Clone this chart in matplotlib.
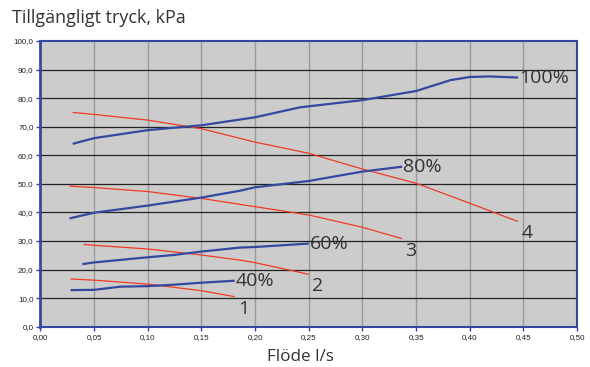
import matplotlib
matplotlib.use("Agg")
import matplotlib.pyplot as plt
from matplotlib.ticker import FuncFormatter, MultipleLocator

# Pump curves (blue) at fan speed settings
x_100 = [0.030, 0.05, 0.10, 0.15, 0.20, 0.242, 0.30, 0.35, 0.382, 0.40, 0.419, 0.445]
y_100 = [64.0, 66.0, 68.8, 70.5, 73.3, 76.8, 79.3, 82.5, 86.3, 87.4, 87.6, 87.2]
x_80 = [0.027, 0.05, 0.10, 0.15, 0.186, 0.20, 0.25, 0.30, 0.337]
y_80 = [37.9, 39.9, 42.4, 45.2, 47.6, 48.8, 51.0, 54.3, 56.0]
x_60 = [0.039, 0.05, 0.10, 0.124, 0.15, 0.186, 0.20, 0.25]
y_60 = [21.9, 22.5, 24.3, 25.1, 26.3, 27.7, 27.9, 29.1]
x_40 = [0.028, 0.05, 0.074, 0.10, 0.124, 0.15, 0.181]
y_40 = [12.8, 12.9, 14.0, 14.2, 14.7, 15.4, 16.1]

# System curves (red)
x_r1 = [0.028, 0.05, 0.10, 0.15, 0.181]
y_r1 = [16.7, 16.3, 14.9, 12.6, 10.5]
x_r2 = [0.040, 0.05, 0.10, 0.15, 0.186, 0.20, 0.242, 0.25]
y_r2 = [28.8, 28.5, 27.2, 25.1, 23.3, 22.4, 19.0, 18.3]
x_r3 = [0.027, 0.05, 0.10, 0.15, 0.20, 0.25, 0.30, 0.337]
y_r3 = [49.2, 48.7, 47.3, 44.9, 42.0, 39.1, 34.8, 30.8]
x_r4 = [0.030, 0.05, 0.10, 0.15, 0.20, 0.25, 0.30, 0.35, 0.40, 0.445]
y_r4 = [75.0, 74.3, 72.3, 69.3, 64.6, 60.7, 55.2, 50.2, 43.2, 36.8]

blue_labels = ["100%", "80%", "60%", "40%"]
red_labels = ["4", "3", "2", "1"]

title = "Tillgängligt tryck, kPa"
xlabel = "Flöde l/s"

BLUE = "#3548a0"
RED = "#f03a22"
TXT = "#333333"

fig = plt.figure(figsize=(5.9, 3.67), dpi=100)
ax = fig.add_axes([0.0686, 0.1098, 0.9096, 0.7785])
ax.set_facecolor("#cccccc")
ax.set_xlim(0, 0.5)
ax.set_ylim(0, 100)

ax.xaxis.set_major_locator(MultipleLocator(0.05))
ax.yaxis.set_major_locator(MultipleLocator(10))
ax.xaxis.set_major_formatter(FuncFormatter(lambda v, p: f"{v:.2f}".replace(".", ",")))
ax.yaxis.set_major_formatter(FuncFormatter(lambda v, p: f"{v:.1f}".replace(".", ",")))

for v in [0.05 * i for i in range(1, 10)]:
    ax.axvline(v, color="#999999", lw=1.0, zorder=1)
for v in range(10, 100, 10):
    ax.axhline(v, color="#222222", lw=0.9, zorder=1)

for s in ax.spines.values():
    s.set_color(BLUE)
    s.set_linewidth(1.5)
ax.spines["left"].set_linewidth(2.0)

ax.tick_params(axis="both", direction="out", length=3, width=1, color=BLUE,
               labelsize=5.8, labelcolor="#222222", pad=2)
for lab in ax.get_xticklabels() + ax.get_yticklabels():
    lab.set_family("Liberation Sans")

series_b = [(x_100, y_100), (x_80, y_80), (x_60, y_60), (x_40, y_40)]
series_r = [(x_r4, y_r4), (x_r3, y_r3), (x_r2, y_r2), (x_r1, y_r1)]

for (xs, ys) in series_r:
    ax.plot(xs, ys, color=RED, lw=0.9, zorder=3, solid_capstyle="butt")
for (xs, ys) in series_b:
    ax.plot(xs, ys, color=BLUE, lw=1.6, zorder=4, solid_capstyle="butt")

lab_font = dict(family="Open Sans", fontsize=14, color=TXT, zorder=5)
for (xs, ys), lab in zip(series_b, blue_labels):
    ax.text(xs[-1] + 0.001, ys[-1], lab, ha="left", va="center", **lab_font)
for (xs, ys), lab in zip(series_r, red_labels):
    ax.text(xs[-1] + 0.003, ys[-1] - 1.0, lab, ha="left", va="top", **lab_font)

fig.text(12 / 590, 1 - 18 / 367, title, ha="left", va="center",
         family="Open Sans", fontsize=13, color=TXT)
fig.text(300 / 590, 1 - 357 / 367, xlabel, ha="center", va="center",
         family="Open Sans", fontsize=12.3, color=TXT)

fig.savefig("out.png", dpi=100)
